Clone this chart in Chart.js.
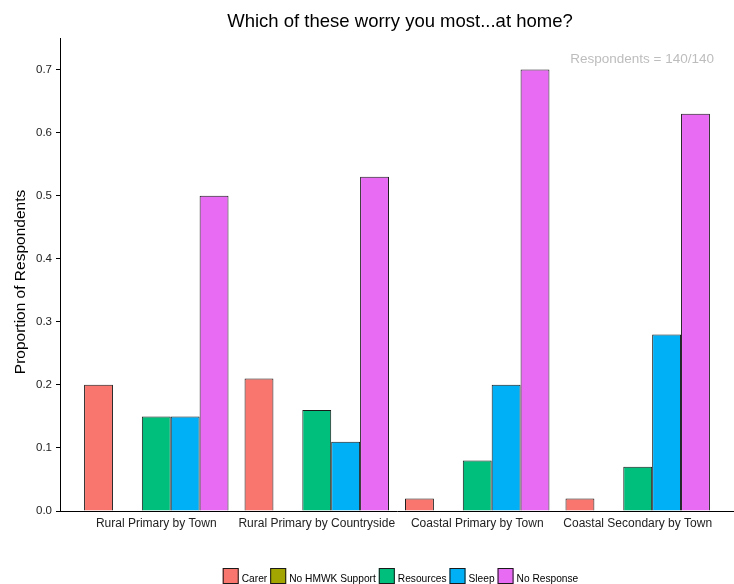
<!DOCTYPE html>
<html lang="en">
<head>
  <meta charset="UTF-8">
  <title>Which of these worry you most...at home?</title>
  <script src="https://cdn.jsdelivr.net/npm/chart.js"></script>
  <style>
    html, body {
      margin: 0;
      padding: 0;
      background: #fff;
    }
    canvas {
      display: block;
    }
  </style>
</head>
<body>
  <canvas id="grafica" width="734" height="584"></canvas>

  <script>
    // data
    const categories = ['Rural Primary by Town', 'Rural Primary by Countryside', 'Coastal Primary by Town', 'Coastal Secondary by Town'];
    const seriesNames = ['Carer', 'No HMWK Support', 'Resources', 'Sleep', 'No Response'];
    const carer = [0.20, 0.21, 0.02, 0.02];
    const noHmwk = [0, 0, 0, 0];
    const resources = [0.15, 0.16, 0.08, 0.07];
    const sleep = [0.15, 0.11, 0.20, 0.28];
    const noResponse = [0.50, 0.53, 0.70, 0.63];
    const yTicks = [0, 0.1, 0.2, 0.3, 0.4, 0.5, 0.6, 0.7];

    const colors = ['#F8766D', '#A3A500', '#00BF7D', '#00B0F6', '#E76BF3'];
    const FONT = "'Liberation Sans', Arial, sans-serif";

    const series = [carer, noHmwk, resources, sleep, noResponse];
    const datasets = series.map((vals, k) => ({
      label: seriesNames[k],
      data: vals.map((v, i) => ({ x: i + 1, y: v })),
      backgroundColor: colors[k],
      borderColor: '#1a1a1a',
      borderWidth: 1,
      borderSkipped: 'start',
      barPercentage: 1,
      categoryPercentage: 0.9
    }));

    // title, annotation, y title and legend drawn by hand
    const extras = {
      id: 'extras',
      afterDraw(chart) {
        const ctx = chart.ctx;
        ctx.save();
        ctx.textBaseline = 'alphabetic';

        ctx.fillStyle = '#000';
        ctx.font = '18.5px ' + FONT;
        ctx.textAlign = 'center';
        ctx.fillText('Which of these worry you most...at home?', 400, 27);

        ctx.fillStyle = '#bdbdbd';
        ctx.font = '13.5px ' + FONT;
        ctx.textAlign = 'right';
        ctx.fillText('Respondents = 140/140', 714, 62.5);

        ctx.save();
        ctx.translate(25, 282);
        ctx.rotate(-Math.PI / 2);
        ctx.fillStyle = '#000';
        ctx.font = '15.5px ' + FONT;
        ctx.textAlign = 'center';
        ctx.fillText('Proportion of Respondents', 0, 0);
        ctx.restore();

        // legend
        ctx.font = '10.2px ' + FONT;
        ctx.textAlign = 'left';
        const box = 16, gapText = 3, gapItem = 3;
        const items = chart.data.datasets.map(d => ({
          label: d.label, color: d.backgroundColor, w: ctx.measureText(d.label).width
        }));
        let total = 0;
        items.forEach((it, i) => { total += box + gapText + it.w + (i < items.length - 1 ? gapItem : 0); });
        let x = 400.5 - total / 2;
        const y = 568;
        items.forEach(it => {
          ctx.fillStyle = it.color;
          ctx.fillRect(x, y, box, box);
          ctx.strokeStyle = '#1a1a1a';
          ctx.lineWidth = 1;
          ctx.strokeRect(x + 0.5, y + 0.5, box - 1, box - 1);
          ctx.fillStyle = '#000';
          ctx.fillText(it.label, x + box + gapText, 581.5);
          x += box + gapText + it.w + gapItem;
        });
        ctx.restore();
      }
    };

    new Chart(document.getElementById('grafica').getContext('2d'), {
      type: 'bar',
      data: { datasets: datasets },
      options: {
        responsive: false,
        animation: false,
        devicePixelRatio: 1,
        layout: { padding: { top: 38, right: 0, bottom: 0, left: 0 } },
        plugins: {
          legend: { display: false },
          title: { display: false },
          tooltip: { enabled: false }
        },
        scales: {
          x: {
            type: 'linear',
            offset: false,
            min: 0.4,
            max: 4.6,
            afterBuildTicks: s => { s.ticks = categories.map((c, i) => ({ value: i + 1 })); },
            afterFit: s => { s.height = 73; },
            grid: { display: false, drawTicks: false, offset: false },
            border: { display: true, color: '#000', width: 1 },
            ticks: {
              autoSkip: false,
              maxRotation: 0,
              padding: 5,
              color: '#222',
              font: { family: FONT, size: 12 },
              callback: v => categories[v - 1]
            }
          },
          y: {
            min: 0,
            max: 0.75,
            afterBuildTicks: s => { s.ticks = yTicks.map(v => ({ value: v })); },
            afterFit: s => { s.width = 60; },
            grid: { display: true, drawOnChartArea: false, drawTicks: true, tickLength: 4, color: '#000' },
            border: { display: true, color: '#000', width: 1 },
            ticks: {
              padding: 4,
              color: '#222',
              font: { family: FONT, size: 11.5 },
              callback: v => v.toFixed(1)
            }
          }
        }
      },
      plugins: [extras]
    });
  </script>
</body>
</html>
